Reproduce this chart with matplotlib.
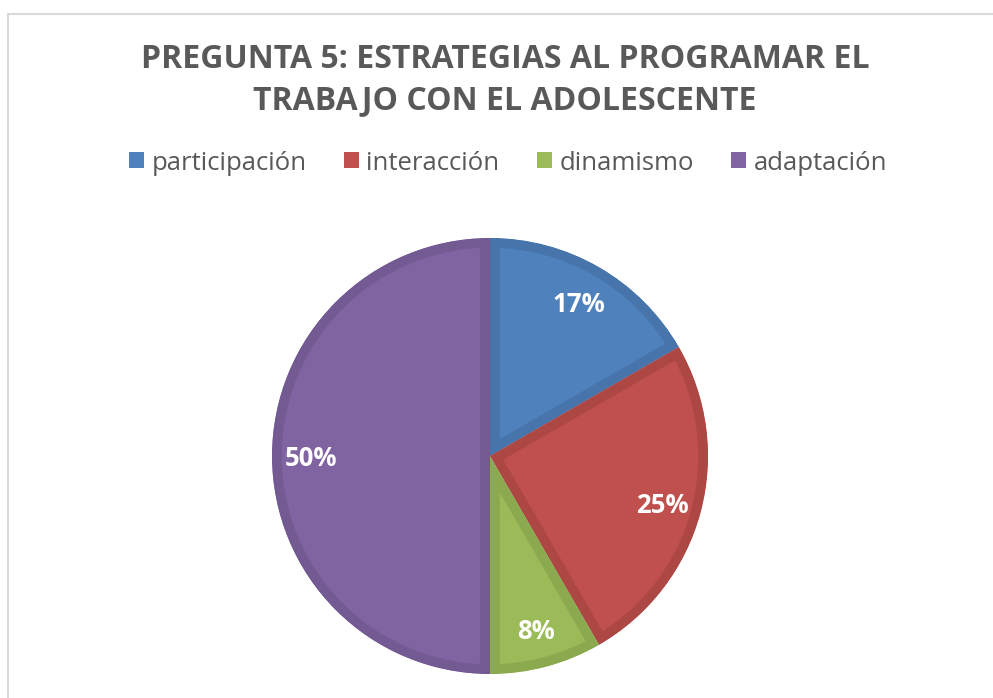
import matplotlib.pyplot as plt
from matplotlib.patches import Patch
from matplotlib.lines import Line2D

plt.rcParams["font.family"] = ["Open Sans", "DejaVu Sans"]

categories = ["participación", "interacción", "dinamismo", "adaptación"]
counts = [2, 3, 1, 6]
colors = ["#4F81BD", "#C0504D", "#9BBB59", "#8064A2"]
edges = ["#4674AB", "#AD4744", "#8BA94F", "#735A92"]
title = "PREGUNTA 5: ESTRATEGIAS AL PROGRAMAR EL\nTRABAJO CON EL ADOLESCENTE"

fig = plt.figure(figsize=(9.93, 6.98), dpi=100)

# light frame (top and left only, rest is cut off)
fig.add_artist(Line2D([8 / 993, 8 / 993], [0, 1 - 14 / 698], color="#D9D9D9", lw=1.5))
fig.add_artist(Line2D([8 / 993, 1], [1 - 14 / 698, 1 - 14 / 698], color="#D9D9D9", lw=1.5))

ax = fig.add_axes([272 / 993, 24 / 698, 436 / 993, 436 / 698])

wedges, texts, autotexts = ax.pie(
    counts,
    colors=colors,
    startangle=90,
    counterclock=False,
    autopct="%1.0f%%",
    pctdistance=0.82,
    textprops=dict(color="white", fontsize=18.5, fontweight="bold"),
)

for t in autotexts:
    t.set_va("center_baseline")

# darker border drawn only inside each wedge
for w, ec in zip(wedges, edges):
    w.set_edgecolor(ec)
    w.set_linewidth(14)
    w.set_clip_on(True)
    w.set_clip_path(w.get_path(), w.get_transform())

ax.set_xlim(-1, 1)
ax.set_ylim(-1, 1)
ax.set_aspect("equal")
ax.axis("off")

fig.text(505 / 993, 1 - 80 / 698, title, ha="center", va="center",
         fontsize=23, fontweight="bold", color="#595959", linespacing=1.3)

handles = [Patch(facecolor=c, edgecolor="none") for c in colors]
fig.legend(handles, categories, loc="center", bbox_to_anchor=(508 / 993, 1 - 163 / 698),
           ncol=4, frameon=False, fontsize=18.5, labelcolor="#595959",
           handlelength=0.58, handleheight=0.58, handletextpad=0.3, columnspacing=1.45)

plt.savefig("out.png", dpi=100)
